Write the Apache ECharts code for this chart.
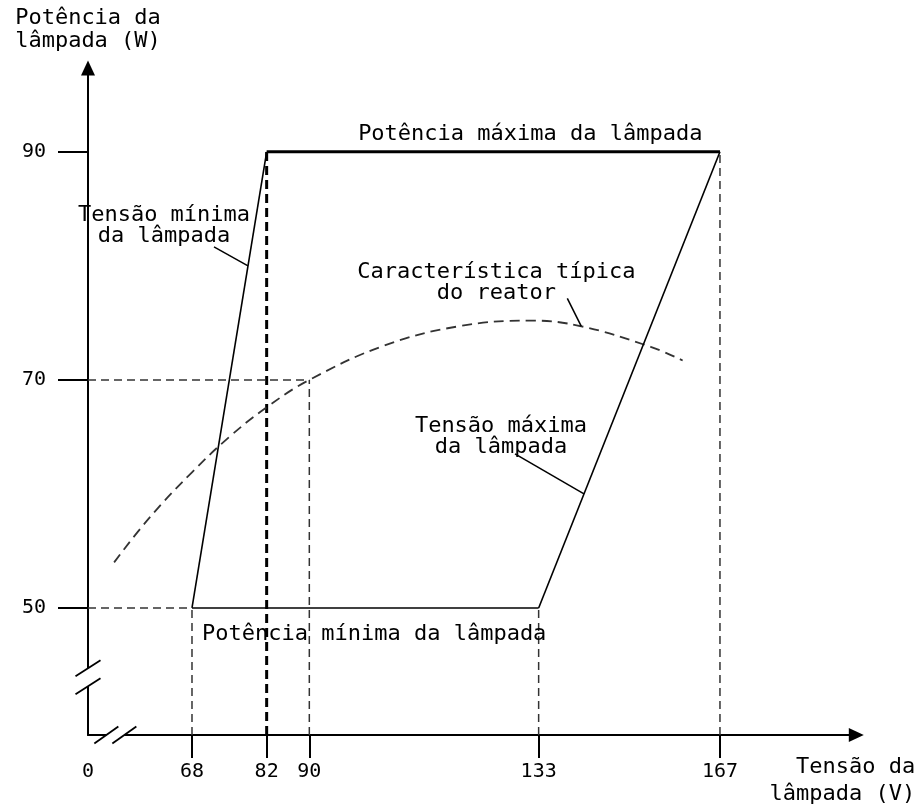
<!DOCTYPE html>
<html>
<head>
<meta charset="utf-8">
<script src="https://cdn.jsdelivr.net/npm/echarts@6.0.0/dist/echarts.min.js"></script>
<style>
html,body{margin:0;padding:0;background:#fff;}
#chart{width:919px;height:805px;}
</style>
</head>
<body>
<div id="chart"></div>
<script>
// ---------- data ----------
const xTickValues = [0, 68, 82, 90, 133, 167];
const yTickValues = [50, 70, 90];
// lamp operating envelope (trapezoid corners, in order)
const envelopeX = [68, 82, 167, 133, 68];
const envelopeY = [50, 90, 90, 50, 50];
// typical ballast characteristic (dashed curve)
const curveX = [53.4, 60, 68, 75, 82, 90, 104, 118, 131.6, 141, 154, 160];
const curveY = [54.0, 57.9, 61.9, 65.0, 67.6, 70, 73.0, 74.7, 75.2, 74.7, 72.9, 71.7];
// points projected down to the voltage axis
const guideX = [68, 82, 90, 133, 167];
const guideY = [50, 90, 70, 50, 90];
// points projected left to the power axis
const levelX = [68, 90];
const levelY = [50, 70];
// texts
const yAxisTitle = 'Potência da\nlâmpada (W)';
const xAxisTitle = 'Tensão da\nlâmpada (V)';
const labelMaxPower = 'Potência máxima da lâmpada';
const labelMinPower = 'Potência mínima da lâmpada';
const labelMinVoltage = 'Tensão mínima\nda lâmpada';
const labelMaxVoltage = 'Tensão máxima\nda lâmpada';
const labelCurve = 'Característica típica\ndo reator';

// ---------- chart ----------
const FONT = '"DejaVu Sans Mono", monospace';
const TXT = 22;
const INK = '#000';
const GUIDE = '#333';
const chart = echarts.init(document.getElementById('chart'), null, {renderer: 'canvas'});

const series = [];
for (let i = 0; i < envelopeX.length - 1; i++) {
  const top = envelopeY[i] === 90 && envelopeY[i + 1] === 90;
  series.push({
    type: 'line', silent: true, animation: false, symbol: 'none', z: 5,
    data: [[envelopeX[i], envelopeY[i]], [envelopeX[i + 1], envelopeY[i + 1]]],
    lineStyle: {color: INK, width: top ? 3 : 1.6}
  });
}
guideX.forEach((x, i) => {
  const bold = x === 82;
  series.push({
    type: 'line', silent: true, animation: false, symbol: 'none', z: bold ? 4 : 3,
    data: [[x, 0], [x, guideY[i]]],
    lineStyle: {color: bold ? INK : GUIDE, width: bold ? 3 : 1.5, type: bold ? [9, 5] : [8, 5]}
  });
});
levelX.forEach((x, i) => {
  series.push({
    type: 'line', silent: true, animation: false, symbol: 'none', z: 3,
    data: [[0, levelY[i]], [x, levelY[i]]],
    lineStyle: {color: GUIDE, width: 1.5, type: [8, 5]}
  });
});
series.push({
  type: 'line', silent: true, animation: false, symbol: 'none', z: 4, smooth: 0.4,
  data: curveX.map((x, i) => [x, curveY[i]]),
  lineStyle: {color: GUIDE, width: 1.8, type: [10, 6]}
});

const option = {
  backgroundColor: '#fff',
  animation: false,
  grid: {left: 88, top: 72, right: 65.7, bottom: 70, containLabel: false, outerBoundsMode: 'none'},
  xAxis: {
    type: 'value', min: 0, max: 192,
    breaks: [{start: 3.5, end: 53, gap: 1}],
    breakArea: {show: false},
    axisLine: {show: true, onZero: false, symbol: ['none', 'triangle'], symbolSize: [14, 15], symbolOffset: [0, 3],
      lineStyle: {color: INK, width: 2}},
    axisTick: {show: true, customValues: xTickValues.filter(v => v !== 0), length: 23, lineStyle: {color: INK, width: 2}},
    axisLabel: {show: true, customValues: xTickValues, margin: 27, color: INK, fontSize: 20, fontFamily: FONT},
    splitLine: {show: false},
    name: xAxisTitle, nameLocation: 'end', nameGap: 62,
    nameTextStyle: {color: INK, fontSize: TXT, fontFamily: FONT, align: 'right', verticalAlign: 'top', lineHeight: 27, padding: [19, 0, 0, 0]}
  },
  yAxis: {
    type: 'value', min: 0, max: 97,
    breaks: [{start: 4.5, end: 44.5, gap: 1.14}],
    breakArea: {show: false},
    axisLine: {show: true, onZero: false, symbol: ['none', 'triangle'], symbolSize: [14, 15], symbolOffset: [0, 4],
      lineStyle: {color: INK, width: 2}},
    axisTick: {show: true, customValues: yTickValues, length: 30, lineStyle: {color: INK, width: 2}},
    axisLabel: {show: true, customValues: yTickValues, margin: 42, color: INK, fontSize: 20, fontFamily: FONT},
    splitLine: {show: false},
    name: yAxisTitle, nameLocation: 'end', nameGap: 19,
    nameTextStyle: {color: INK, fontSize: TXT, fontFamily: FONT, align: 'center', verticalAlign: 'bottom', lineHeight: 23}
  },
  series: series
};
chart.setOption(option);

// ---------- annotations anchored on data points ----------
const P = (x, y) => chart.convertToPixel({gridIndex: 0}, [x, y]);
const onSeg = (x0, y0, x1, y1, y) => x0 + (x1 - x0) * (y - y0) / (y1 - y0);
const text = (str, x, y, align) => ({type: 'text', z: 20, silent: true,
  style: {text: str, x: x, y: y, fill: INK, fontSize: TXT, fontFamily: FONT, align: align || 'center', verticalAlign: 'middle', lineHeight: 21}});
const seg = (x1, y1, x2, y2, w) => ({type: 'line', z: 20, silent: true, shape: {x1, y1, x2, y2}, style: {stroke: INK, lineWidth: w || 1.5}});
const g = [];

const tl = P(82, 90), tr = P(167, 90);
g.push(text(labelMaxPower, (tl[0] + tr[0]) / 2 + 37, tl[1] - 18));
const bl = P(68, 50);
g.push(text(labelMinPower, bl[0] + 10, bl[1] + 26, 'left'));

const aMin = P(onSeg(68, 50, 82, 90, 80), 80);
g.push(seg(aMin[0] - 34, aMin[1] - 19, aMin[0], aMin[1]));
g.push(text(labelMinVoltage, aMin[0] - 84, aMin[1] - 40));

const aMax = P(onSeg(133, 50, 167, 90, 60), 60);
g.push(seg(aMax[0] - 69, aMax[1] - 40, aMax[0], aMax[1]));
g.push(text(labelMaxVoltage, aMax[0] - 83, aMax[1] - 57));

const aCur = P(curveX[9], curveY[9]);
g.push(seg(aCur[0] - 14, aCur[1] - 28, aCur[0], aCur[1]));
g.push(text(labelCurve, aCur[0] - 85, aCur[1] - 44));

// axis break marks "//"
const o = P(0, 0);
const xb = (P(3.5, 0)[0] + P(53, 0)[0]) / 2 + 6;
g.push({type: 'rect', z: 19, silent: true, shape: {x: xb - 9, y: o[1] - 3, width: 18, height: 6}, style: {fill: '#fff'}});
[-9, 9].forEach(d => g.push(seg(xb + d - 12, o[1] + 8.5, xb + d + 12, o[1] - 8.5, 1.8)));
const yb = (P(0, 4.5)[1] + P(0, 44.5)[1]) / 2;
g.push({type: 'rect', z: 19, silent: true, shape: {x: o[0] - 3, y: yb - 9, width: 6, height: 18}, style: {fill: '#fff'}});
[-9, 9].forEach(d => g.push(seg(o[0] - 12.5, yb + d + 8, o[0] + 12.5, yb + d - 8, 1.8)));

chart.setOption({graphic: g});
</script>
</body>
</html>
